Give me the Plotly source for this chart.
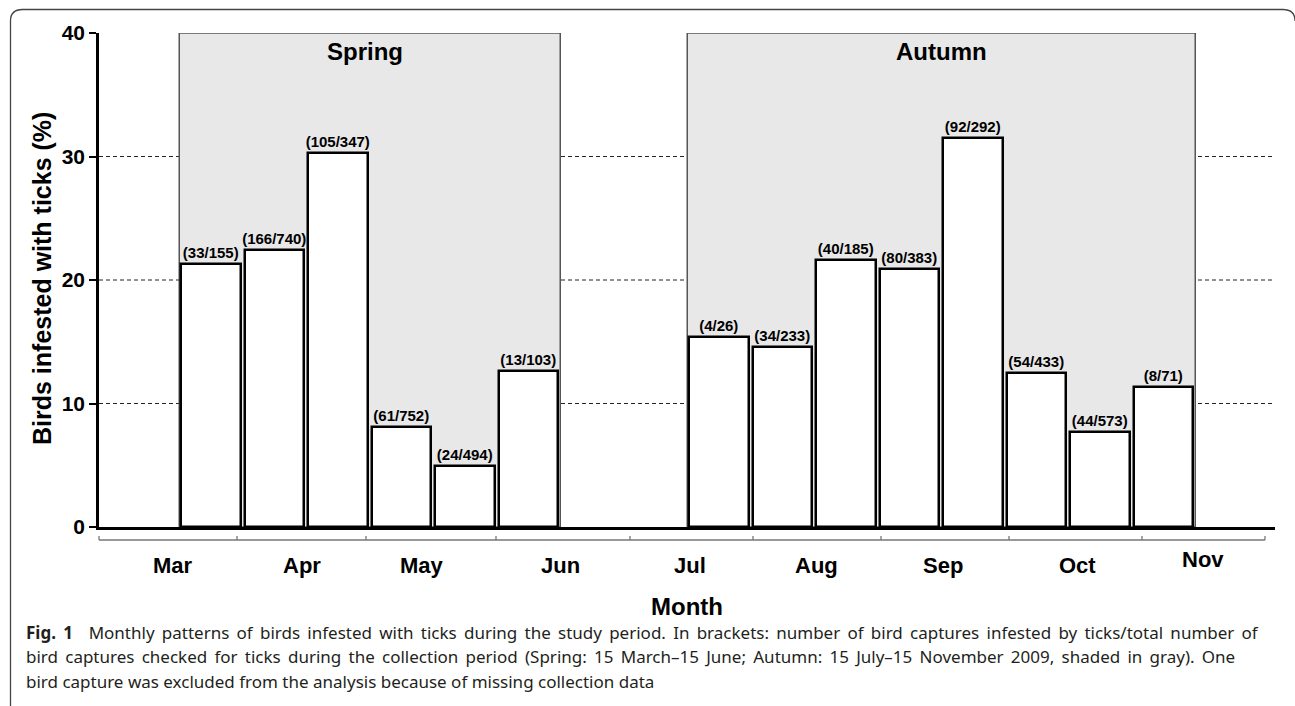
import plotly.graph_objects as go

# ---------------- data ----------------
periods = ["Mar II", "Apr I", "Apr II", "May I", "May II", "Jun I", "Jun II", "Jul I",
           "Jul II", "Aug I", "Aug II", "Sep I", "Sep II", "Oct I", "Oct II", "Nov I"]
bar_periods = ["Mar II", "Apr I", "Apr II", "May I", "May II", "Jun I",
               "Jul II", "Aug I", "Aug II", "Sep I", "Sep II", "Oct I", "Oct II", "Nov I"]
infested = [33, 166, 105, 61, 24, 13, 4, 34, 40, 80, 92, 54, 44, 8]
checked = [155, 740, 347, 752, 494, 103, 26, 233, 185, 383, 292, 433, 573, 71]
percent = [21.3, 22.4, 30.3, 8.1, 4.9, 12.6, 15.4, 14.6, 21.6, 20.9, 31.5, 12.5, 7.7, 11.3]

months = ["Mar", "Apr", "May", "Jun", "Jul", "Aug", "Sep", "Oct", "Nov"]
seasons = ["Spring", "Autumn"]
season_first = ["Mar II", "Jul II"]
season_last = ["Jun I", "Nov I"]

y_ticks = [0, 10, 20, 30, 40]
grid_vals = [10, 20, 30]

caption_lines = [
    ("<b>Fig. 1</b>\u2002 Monthly patterns of birds infested with ticks during the study period. "
     "In brackets: number of bird captures infested by ticks/total number of"),
    ("bird captures checked for ticks during the collection period (Spring: 15 March\u201315 June; "
     "Autumn: 15 July\u201315 November 2009, shaded in gray). One"),
    "bird capture was excluded from the analysis because of missing collection data",
]
caption_justified = [True, True, False]

# ---------------- layout geometry (pixels) ----------------
W, H = 1295, 706
L, R, T, B = 99, 1275, 33, 527


def px(x):
    return (x - L) / (R - L)


def py(y):
    return (B - y) / (B - T)


month_label_x = [173, 302, 422, 560, 690, 816, 943, 1077, 1203]
month_label_y = [565, 565, 565, 565, 565, 565, 565, 565, 559]
month_bounds_x = [99, 237, 366, 496, 630, 753, 881, 1009, 1142, 1265]

FONT = "Liberation Sans, Arial, sans-serif"

labels = [f"({a}/{b})" for a, b in zip(infested, checked)]

fig = go.Figure()
fig.add_trace(go.Bar(
    x=bar_periods, y=percent, width=0.94,
    marker=dict(color="white", line=dict(color="black", width=2.5)),
    text=labels, textposition="outside", constraintext="none",
    textfont=dict(family=FONT, size=15, color="black", weight="bold"),
    cliponaxis=False, hoverinfo="skip",
))

shapes = []
# season shading
for first, last in zip(season_first, season_last):
    i0, i1 = periods.index(first), periods.index(last)
    shapes.append(dict(type="rect", xref="x", yref="y", x0=i0 - 0.5, x1=i1 + 0.5, y0=0, y1=40,
                       fillcolor="#e8e8e8", line=dict(color="#555555", width=1.5), layer="below"))
# dashed reference lines
for g in grid_vals:
    shapes.append(dict(type="line", xref="paper", yref="y", x0=0, x1=px(1273), y0=g, y1=g,
                       line=dict(color="#222222", width=1, dash="4px,3px"), layer="below"))
# secondary month axis
shapes.append(dict(type="line", xref="paper", yref="paper", x0=px(month_bounds_x[0]),
                   x1=px(month_bounds_x[-1]), y0=py(540), y1=py(540),
                   line=dict(color="#777777", width=1.5)))
for bx in month_bounds_x:
    shapes.append(dict(type="line", xref="paper", yref="paper", x0=px(bx), x1=px(bx),
                       y0=py(540), y1=py(536), line=dict(color="#777777", width=1.3)))
# figure frame
frame = (f"M {px(10.5)},{py(706)} L {px(10.5)},{py(21)} Q {px(10.5)},{py(9.5)} {px(22.5)},{py(9.5)} "
         f"L {px(1283)},{py(9.5)} Q {px(1295)},{py(9.5)} {px(1295)},{py(21)}")
shapes.append(dict(type="path", xref="paper", yref="paper", path=frame,
                   line=dict(color="#444444", width=1.3)))

annotations = []
for name, first, last, cx in zip(seasons, season_first, season_last, [365, 941]):
    annotations.append(dict(text=f"<b>{name}</b>", xref="paper", yref="paper", x=px(cx), y=py(51),
                            xanchor="center", yanchor="middle", showarrow=False,
                            font=dict(family=FONT, size=24, color="black")))
for m, mx, my in zip(months, month_label_x, month_label_y):
    annotations.append(dict(text=f"<b>{m}</b>", xref="paper", yref="paper", x=px(mx), y=py(my),
                            xanchor="center", yanchor="middle", showarrow=False,
                            font=dict(family=FONT, size=22, color="black")))
annotations.append(dict(text="<b>Month</b>", xref="paper", yref="paper", x=px(687), y=py(606),
                        xanchor="center", yanchor="middle", showarrow=False,
                        font=dict(family=FONT, size=24, color="black")))
annotations.append(dict(text="<b>Birds infested with ticks (%)</b>", xref="paper", yref="paper",
                        x=px(42), y=py(279), xanchor="center", yanchor="middle", textangle=-90,
                        showarrow=False, font=dict(family=FONT, size=25, color="black")))
for k, (line, just) in enumerate(zip(caption_lines, caption_justified)):
    shown = line.replace(" ", " \u2009") if just else line
    annotations.append(dict(text=shown, xref="paper", yref="paper", x=px(24), y=py(632 + 24.5 * k),
                            xanchor="left", yanchor="middle", showarrow=False,
                            font=dict(family="Noto Sans", size=17, color="#231f20")))

fig.update_layout(
    width=W, height=H,
    margin=dict(l=L, r=W - R, t=T, b=H - B, pad=0),
    paper_bgcolor="white", plot_bgcolor="white",
    showlegend=False,
    shapes=shapes, annotations=annotations,
    xaxis=dict(type="category", categoryorder="array", categoryarray=periods,
               range=[(L - 211) / 63.5, (R - 211) / 63.5],
               showticklabels=False, ticks="", showgrid=False, zeroline=False,
               showline=True, linecolor="black", linewidth=2.5, fixedrange=True),
    yaxis=dict(range=[0, 40], tickvals=y_ticks, ticktext=[f"<b>{v}</b>" for v in y_ticks],
               tickfont=dict(family=FONT, size=21, color="black"),
               ticks="outside", ticklen=7, tickwidth=2, tickcolor="black",
               showline=True, linecolor="black", linewidth=2.5,
               showgrid=False, zeroline=False, fixedrange=True),
    bargap=0,
)

fig.write_html("out.html", config={"displayModeBar": False},
               post_script="document.body.style.margin='0';")
